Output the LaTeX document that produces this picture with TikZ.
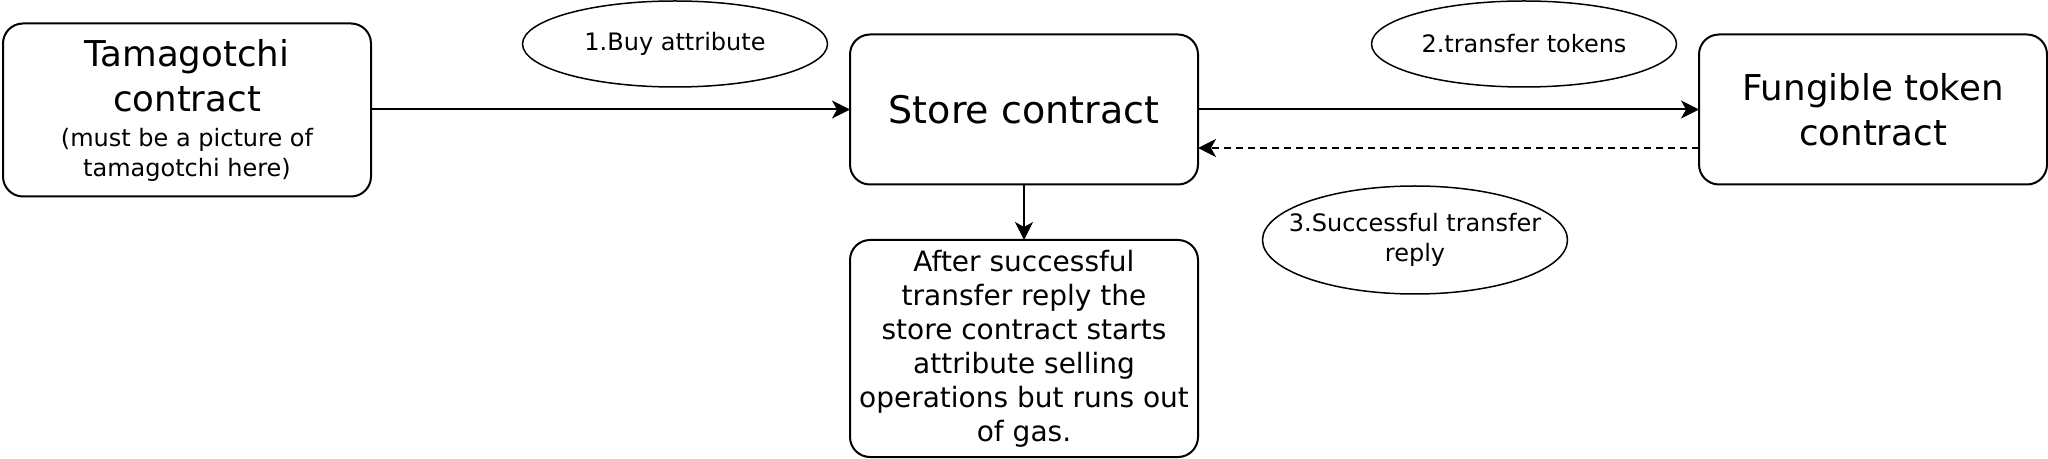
\documentclass[tikz,border=0pt]{standalone}
\usepackage{fontspec}
\setmainfont{DejaVu Sans}
\usetikzlibrary{shapes,arrows,arrows.meta}

\begin{document}
\begin{tikzpicture}[x=0.5pt,y=-0.5pt,
  contract/.style={draw,rounded corners=10pt,line width=1pt,align=center,inner sep=2pt,outer sep=0pt,minimum width=174pt,minimum height=75pt},
  bigtext/.style={font=\fontsize{17.8}{22.5}\selectfont},
  msg/.style={draw,ellipse,line width=0.75pt,align=center,inner sep=0pt,outer sep=0pt,minimum width=152.5pt,minimum height=43pt,font=\fontsize{12}{15}\selectfont},
  >={Stealth[length=9pt,width=9pt,inset=2.5pt]}]
\useasboundingbox (0,0) rectangle (2048,459);

% to draw the contracts
\node [contract,bigtext,minimum width=184pt,minimum height=86.5pt] (tama) at (187,110)
  {Tamagotchi\\contract\\[-5pt]{\fontsize{12}{15}\selectfont(must be a picture of}\\[-7.5pt]{\fontsize{12}{15}\selectfont tamagotchi here)}};
\node [contract,font=\fontsize{19}{23}\selectfont] (store) at (1024,109.5) {Store contract};
\node [contract,bigtext] (fung) at (1873,109.5) {Fungible token\\contract};
\node [contract,minimum height=108.5pt,font=\fontsize{14}{17}\selectfont] (after) at (1024,348.5)
  {After successful\\transfer reply the\\store contract starts\\attribute selling\\operations but runs out\\of gas.};

% to write the messages
\node [msg] (buy) at (675,44) {1.Buy attribute};
\node [msg] (transfer) at (1524,44) {2.transfer tokens};
\node [msg,minimum height=54pt,inner xsep=-10pt] (reply) at (1415,240) {3.Successful transfer\\reply};

% to draw arrows
\draw [->,line width=1pt] (tama.east |- store.west) -- (store.west);
\draw [->,line width=1pt] (store.east) -- (fung.west);
\draw [->,line width=1pt,dash pattern=on 3.5pt off 2.5pt] ([yshift=-19.25pt]fung.west) -- ([yshift=-19.25pt]store.east);
\draw [->,line width=0.6pt] (store.south) -- (after.north);
\end{tikzpicture}
\end{document}
